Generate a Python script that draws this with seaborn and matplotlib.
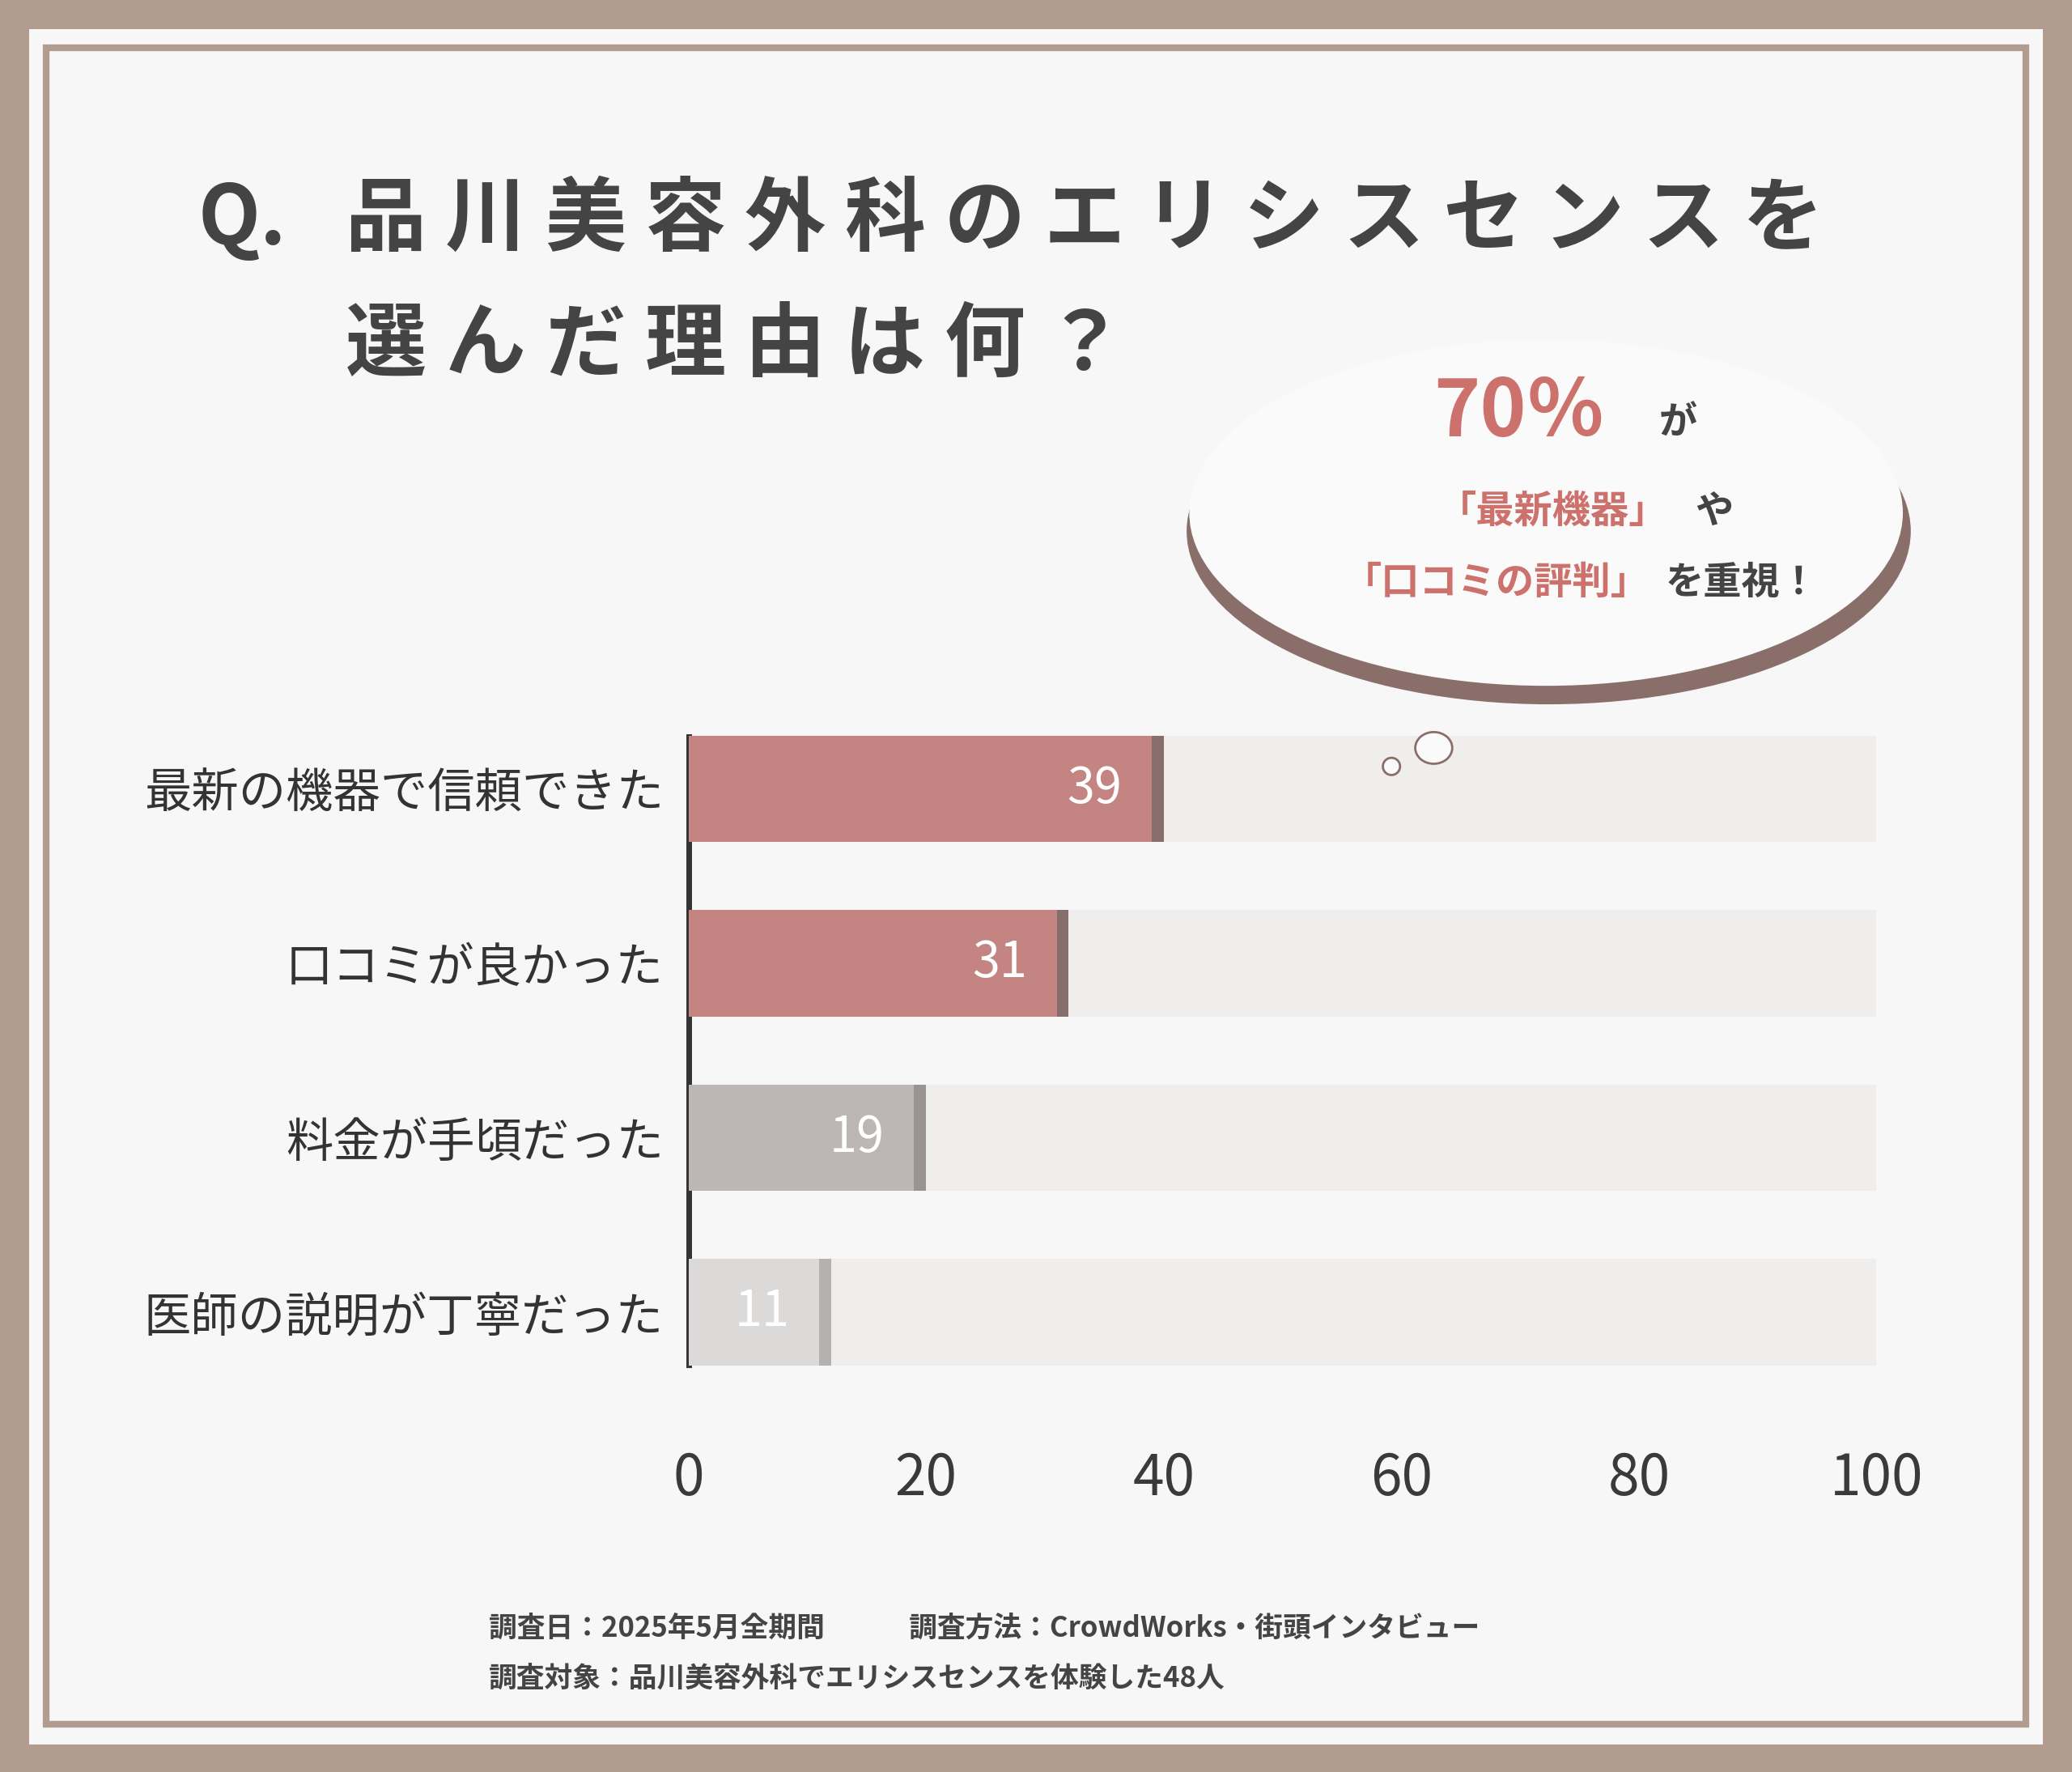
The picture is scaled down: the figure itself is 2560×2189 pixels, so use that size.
import matplotlib
matplotlib.use("Agg")
import matplotlib.pyplot as plt
import seaborn as sns
import pandas as pd
from matplotlib.patches import Rectangle, Ellipse

plt.rcParams["font.family"] = "Noto Sans CJK JP"

categories = ["最新の機器で信頼できた", "口コミが良かった", "料金が手頃だった", "医師の説明が丁寧だった"]
values = [39, 31, 19, 11]
bar_colors = ["#cf7a76", "#cf7a76", "#bdb6b4", "#dcd8d8"]
shadow_colors = ["#8a6a68", "#8a6a68", "#9a9392", "#b5b0b0"]
x_ticks = [0, 20, 40, 60, 80, 100]
track_max = 100

df = pd.DataFrame({"理由": categories, "人数": values})

W, H = 1568, 1341
def fx(x): return x / W
def fy(y): return 1 - y / H

fig = plt.figure(figsize=(25.6, 21.89), dpi=100)
fig.patch.set_facecolor("#b29b8f")
# white panel + frame
fig.patches.append(Rectangle((fx(22), fy(1320)), fx(1546) - fx(22), fy(22) - fy(1320),
                             transform=fig.transFigure, facecolor="#f7f7f7", edgecolor="none", zorder=-2))
fig.patches.append(Rectangle((fx(35), fy(1305)), fx(1533) - fx(35), fy(36) - fy(1305),
                             transform=fig.transFigure, facecolor="none", edgecolor="#b29b8f", lw=6, zorder=-1))

ax = fig.add_axes([fx(521), fy(1059), fx(1456) - fx(521), fy(531) - fy(1059)])
ax.set_zorder(5)
ax.set_facecolor("none")

track = pd.DataFrame({"理由": categories, "人数": [track_max] * len(categories)})
sns.barplot(data=track, x="人数", y="理由", color="#f1eeeb", width=0.61, ax=ax, zorder=1)
sns.barplot(data=df.assign(人数=df["人数"] + 1.0), x="人数", y="理由", hue="理由",
            palette=shadow_colors, width=0.61, ax=ax, legend=False, zorder=2)
sns.barplot(data=df, x="人数", y="理由", hue="理由", palette=bar_colors,
            width=0.61, ax=ax, legend=False, zorder=3)

for i, v in enumerate(values):
    ax.text(v - 2.5, i, str(v), ha="right", va="center", color="white",
            fontsize=44, zorder=5)

ax.set_xlim(0, 104)
ax.set_ylim(3.5, -0.5)
ax.set_xticks(x_ticks)
ax.set_xticklabels([str(t) for t in x_ticks], fontsize=50, color="#3a3a3a")
ax.tick_params(axis="x", length=0, pad=45)
ax.tick_params(axis="y", length=0, pad=22, labelsize=42, labelcolor="#333333")
ax.set_xlabel("")
ax.set_ylabel("")
for s in ["top", "right", "bottom"]:
    ax.spines[s].set_visible(False)
ax.spines["left"].set_color("#333333")
ax.spines["left"].set_linewidth(5)
ax.spines["left"].set_bounds(-0.3, 3.3)

# title, spaced out character by character
title1 = "品川美容外科のエリシスセンスを"
title2 = "選んだ理由は何？"
fig.text(fx(150), fy(167), "Q.", fontsize=72, fontweight="bold", color="#444444", va="center", ha="left")
for k, ch in enumerate(title1):
    fig.text(fx(292 + 75.5 * k), fy(167), ch, fontsize=72, fontweight="bold",
             color="#444444", va="center", ha="center")
for k, ch in enumerate(title2):
    fig.text(fx(292 + 75.5 * k), fy(262), ch, fontsize=72, fontweight="bold",
             color="#444444", va="center", ha="center")

# speech bubble
fig.patches.append(Ellipse((fx(1172), fy(402)), fx(548), fy(0) - fy(262),
                           transform=fig.transFigure, facecolor="#8a6e6a", edgecolor="none", zorder=2))
fig.patches.append(Ellipse((fx(1170), fy(388)), fx(540), fy(0) - fy(262),
                           transform=fig.transFigure, facecolor="#fafafa", edgecolor="none", zorder=3))
fig.patches.append(Ellipse((fx(1085), fy(566)), fx(28), fy(0) - fy(24),
                           transform=fig.transFigure, facecolor="#fafafa", edgecolor="#8a6e6a", lw=2, zorder=8))
fig.patches.append(Ellipse((fx(1053), fy(580)), fx(13), fy(0) - fy(13),
                           transform=fig.transFigure, facecolor="#fafafa", edgecolor="#8a6e6a", lw=2, zorder=8))

red = "#cd716c"
fig.text(fx(1150), fy(313), "70％", fontsize=70, fontweight="bold", color=red, ha="center", va="center", zorder=6)
fig.text(fx(1270), fy(320), "が", fontsize=34, fontweight="bold", color="#444444", ha="center", va="center", zorder=6)
fig.text(fx(1262), fy(387), "「最新機器」", fontsize=34, fontweight="bold", color=red, ha="right", va="center", zorder=6)
fig.text(fx(1283), fy(387), "や", fontsize=34, fontweight="bold", color="#444444", ha="left", va="center", zorder=6)
fig.text(fx(1248), fy(441), "「口コミの評判」", fontsize=34, fontweight="bold", color=red, ha="right", va="center", zorder=6)
fig.text(fx(1260), fy(441), "を重視！", fontsize=34, fontweight="bold", color="#444444", ha="left", va="center", zorder=6)

# footer
fig.text(fx(370), fy(1232), "調査日：2025年5月全期間　　　調査方法：CrowdWorks・街頭インタビュー",
         fontsize=25, fontweight="bold", color="#444444", ha="left", va="center")
fig.text(fx(370), fy(1270), "調査対象：品川美容外科でエリシスセンスを体験した48人",
         fontsize=25, fontweight="bold", color="#444444", ha="left", va="center")

fig.savefig("out.png", dpi=100, facecolor=fig.get_facecolor())
